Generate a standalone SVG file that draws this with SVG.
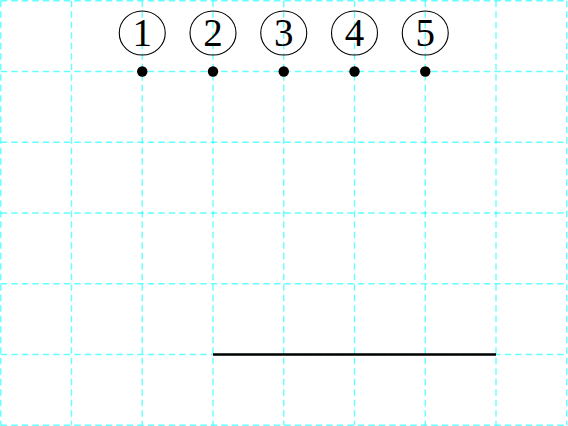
<svg xmlns="http://www.w3.org/2000/svg" width="568" height="426" viewBox="0 0 568 426">
<style>
.grid{stroke:#00ffff;stroke-opacity:0.6;stroke-width:1.4;stroke-dasharray:6.5 4;fill:none}
.ring{fill:none;stroke:#000;stroke-width:1.1}
.lbl{font-family:"Liberation Serif","DejaVu Serif",serif;font-size:39px;text-anchor:middle;fill:#000}
.dot{fill:#000}
</style>
<rect width="568" height="426" fill="#fff"/>
<g id="grid" class="grid">
<path d="M0.75 0.75V425.25M71.5 0.75V425.25M142.25 0.75V425.25M213 0.75V425.25M283.75 0.75V425.25M354.5 0.75V425.25M425.25 0.75V425.25M496 0.75V425.25M566.75 0.75V425.25"/>
<path d="M0.75 0.75H566.75M0.75 71.5H566.75M0.75 142.25H566.75M0.75 213H566.75M0.75 283.75H566.75M0.75 354.5H566.75M0.75 425.25H566.75"/>
</g>
<g id="node1"><circle class="dot" cx="142.25" cy="71.5" r="5.2"/><ellipse class="ring" cx="142.25" cy="33" rx="23" ry="22"/><text class="lbl" x="142.25" y="46">1</text></g>
<g id="node2"><circle class="dot" cx="213" cy="71.5" r="5.2"/><ellipse class="ring" cx="213" cy="33" rx="23" ry="22"/><text class="lbl" x="213" y="46">2</text></g>
<g id="node3"><circle class="dot" cx="283.75" cy="71.5" r="5.2"/><ellipse class="ring" cx="283.75" cy="33" rx="23" ry="22"/><text class="lbl" x="283.75" y="46">3</text></g>
<g id="node4"><circle class="dot" cx="354.5" cy="71.5" r="5.2"/><ellipse class="ring" cx="354.5" cy="33" rx="23" ry="22"/><text class="lbl" x="354.5" y="46">4</text></g>
<g id="node5"><circle class="dot" cx="425.25" cy="71.5" r="5.2"/><ellipse class="ring" cx="425.25" cy="33" rx="23" ry="22"/><text class="lbl" x="425.25" y="46">5</text></g>
<g id="connectors"><path d="M213 354.5H496" stroke="#000" stroke-width="2.5" fill="none"/></g>
</svg>
